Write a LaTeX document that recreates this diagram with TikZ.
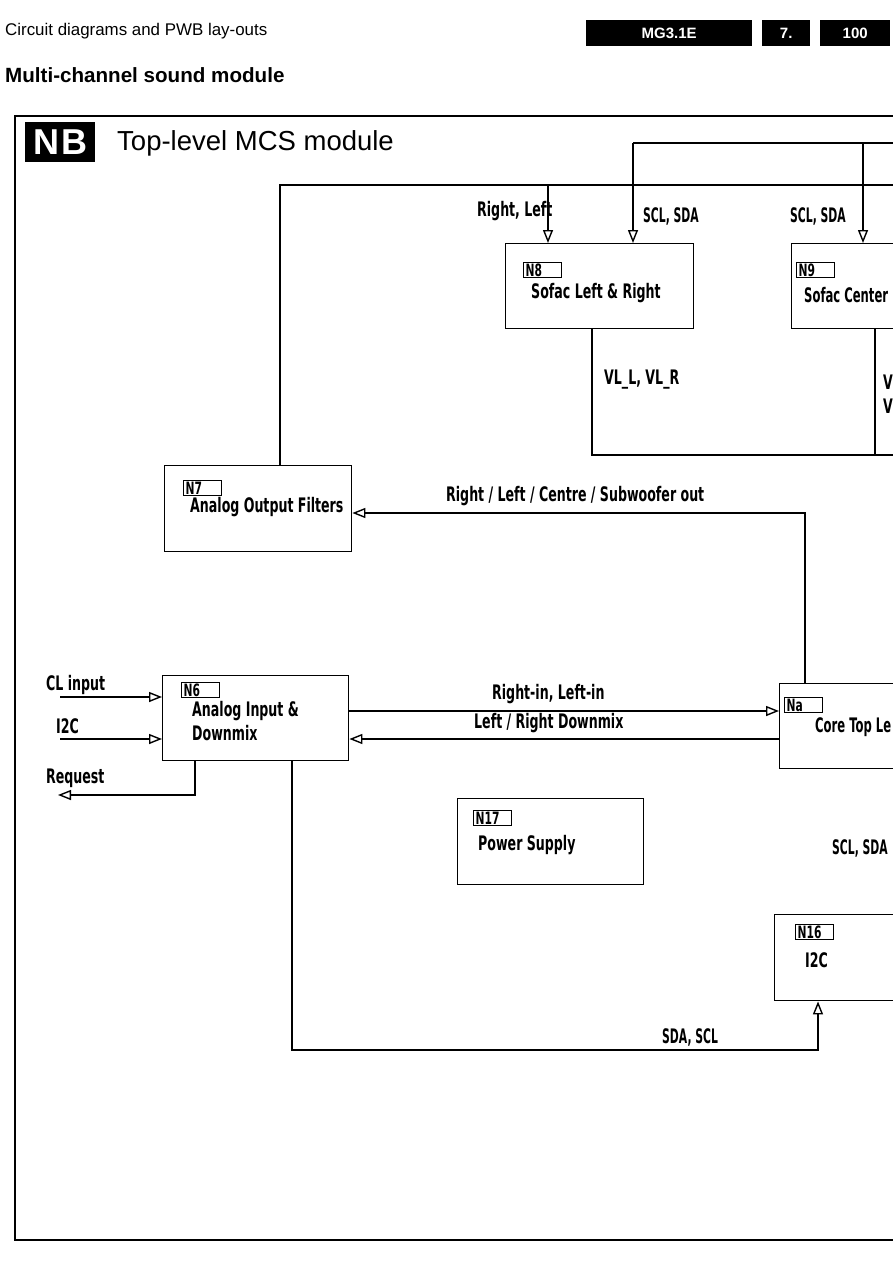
\documentclass[tikz,border=0pt]{standalone}
\usepackage{fontspec}
\setmainfont{Liberation Sans}
\newfontfamily\plotfont[FakeStretch=0.63]{DejaVu Sans}
\newfontfamily\plotmid[FakeStretch=0.58]{DejaVu Sans}
\newfontfamily\plotnarrow[FakeStretch=0.54]{DejaVu Sans}
\usetikzlibrary{arrows.meta}
\tikzset{
  blk/.style={draw, line width=1.4pt, anchor=north west, inner sep=0pt},
  tag/.style={draw, line width=1.2pt, anchor=north west, minimum width=38pt, minimum height=15pt,
    inner sep=0pt, text width=34pt, align=left, font=\plotfont\bfseries\fontsize{17}{17}\selectfont},
  lbl/.style={anchor=west, inner sep=0pt, align=left, font=\plotfont\bfseries\fontsize{20}{24}\selectfont},
  mlbl/.style={lbl, font=\plotmid\bfseries\fontsize{20}{24}\selectfont},
  nlbl/.style={lbl, font=\plotnarrow\bfseries\fontsize{20}{24}\selectfont},
  wire/.style={line width=1.4pt},
  arr/.style={wire, -{Triangle[open, length=13pt, width=10pt]}},
  hbox/.style={fill=black, text=white, anchor=north west, inner sep=0pt,
    font=\bfseries\fontsize{15}{15}\selectfont},
}
\begin{document}
\begin{tikzpicture}[x=1pt, y=-1pt]
\useasboundingbox (0,0) rectangle (893,1263);
\clip (0,0) rectangle (893,1263);
\coordinate (rE) at (920,0);

% header
\node[anchor=west, inner sep=0pt, font=\fontsize{16.9}{16.9}\selectfont] (hd) at (5,31) {Circuit diagrams and PWB lay-outs};
\node[hbox, minimum width=166pt, minimum height=26pt] (hmg) at (586,20) {MG3.1E};
\node[hbox, minimum width=48pt, minimum height=26pt] (hch) at (762,20) {7.};
\node[hbox, minimum width=70pt, minimum height=26pt] (hpg) at (820,20) {100};
\node[anchor=west, inner sep=0pt, font=\bfseries\fontsize{20.6}{20.6}\selectfont] (sub) at (5,75) {Multi-channel sound module};

% frame
\draw[line width=1.6pt] (rE |- 0,116) -- (15,116) -- (15,1240) -- (rE |- 0,1240);
\node[fill=black, text=white, anchor=north west, minimum width=70pt, minimum height=40pt, inner sep=0pt,
  font=\bfseries\fontsize{36}{36}\selectfont] (nb) at (25,122) {N\kern2pt B};
\node[anchor=west, inner sep=0pt, font=\fontsize{27.5}{27.5}\selectfont] (ttl) at (117,143) {Top-level MCS module};

% blocks
\node[blk, minimum width=188pt, minimum height=85pt] (n8) at (505,243) {};
\node[tag] (n8t) at (523,262) {N8};
\node[lbl] (n8l) at (531,293) {Sofac Left \& Right};

\node[blk, minimum width=200pt, minimum height=85pt] (n9) at (791,243) {};
\node[tag] (n9t) at (796,262) {N9};
\node[mlbl] (n9l) at (804,295) {Sofac Center};

\node[blk, minimum width=187pt, minimum height=86pt] (n7) at (164,465) {};
\node[tag] (n7t) at (183,480) {N7};
\node[lbl] (n7l) at (190,507) {Analog Output Filters};

\node[blk, minimum width=186pt, minimum height=85pt] (n6) at (162,675) {};
\node[tag] (n6t) at (181,682) {N6};
\node[lbl] (n6l) at (192,721) {Analog Input \&\\Downmix};

\node[blk, minimum width=200pt, minimum height=85pt] (na) at (779,683) {};
\node[tag] (nat) at (784,697) {Na};
\node[mlbl] (nal) at (815,727) {Core Top Le};

\node[blk, minimum width=186pt, minimum height=86pt] (n17) at (457,798) {};
\node[tag] (n17t) at (473,810) {N17};
\node[lbl] (n17l) at (478,845) {Power Supply};

\node[blk, minimum width=200pt, minimum height=86pt] (n16) at (774,914) {};
\node[tag] (n16t) at (795,924) {N16};
\node[lbl] (n16l) at (805,960) {I2C};

% buses
\coordinate (busA) at (633,143);
\coordinate (busC) at (863,143);
\draw[wire] (busA) -- (busA -| rE);
\draw[arr] (busA) -- (busA |- n8.north);
\draw[arr] (busC) -- (busC |- n9.north);

\coordinate (busB) at (280,185);
\coordinate (busD) at (548,185);
\draw[wire] (n7.north -| busB) -- (busB) -- (busB -| rE);
\draw[arr] (busD) -- (busD |- n8.north);

\coordinate (vl) at (592,455);
\coordinate (vc) at (875,455);
\draw[wire] (vl |- n8.south) -- (vl) -- (vl -| rE);
\draw[wire] (vc |- n9.south) -- (vc);

\coordinate (rl) at (805,513);
\draw[arr] (rl |- na.north) -- (rl) -- (rl -| n7.east);

\coordinate (ri) at (560,711);
\coordinate (dm) at (560,739);
\draw[arr] (ri -| n6.east) -- (ri -| na.west);
\draw[arr] (dm -| na.west) -- (dm -| n6.east);

\coordinate (cl) at (60,697);
\coordinate (i2) at (60,739);
\draw[arr] (cl) -- (cl -| n6.west);
\draw[arr] (i2) -- (i2 -| n6.west);

\coordinate (rq) at (195,795);
\coordinate (rqe) at (58,795);
\draw[arr] (rq |- n6.south) -- (rq) -- (rqe);

\coordinate (sd) at (292,1050);
\coordinate (sd2) at (818,1050);
\draw[arr] (sd |- n6.south) -- (sd) -- (sd2) -- (sd2 |- n16.south);

% labels
\node[lbl] (l1) at (477,211) {Right, Left};
\node[nlbl] (l2) at (643,216) {SCL, SDA};
\node[nlbl] (l3) at (790,216) {SCL, SDA};
\node[lbl] (l4) at (604,380) {VL\_L, VL\_R};
\node[lbl] (l5) at (883,394) {V\\V};
\node[lbl] (l6) at (446,496) {Right / Left / Centre / Subwoofer out};
\node[lbl] (l7) at (46,685) {CL input};
\node[lbl] (l8) at (56,726) {I2C};
\node[lbl] (l9) at (46,778) {Request};
\node[lbl] (l10) at (492,694) {Right-in, Left-in};
\node[lbl] (l11) at (474,723) {Left / Right Downmix};
\node[nlbl] (l12) at (832,848) {SCL, SDA};
\node[nlbl] (l13) at (662,1037) {SDA, SCL};
\end{tikzpicture}
\end{document}
